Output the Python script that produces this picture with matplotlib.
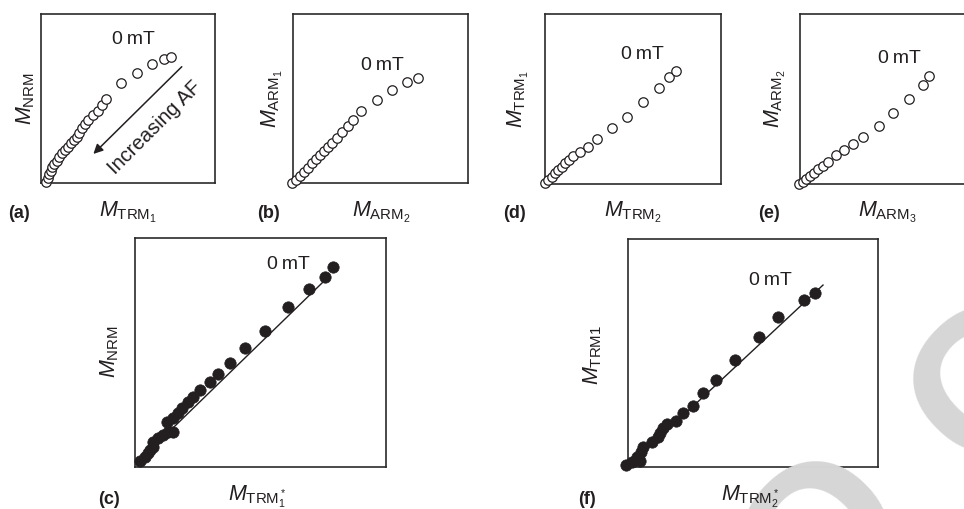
import matplotlib.pyplot as plt

plt.rcParams['font.family'] = ['Liberation Sans', 'DejaVu Sans']
plt.rcParams['mathtext.fontset'] = 'custom'
plt.rcParams['mathtext.rm'] = 'Liberation Sans'
plt.rcParams['mathtext.it'] = 'Liberation Sans:italic'
plt.rcParams['mathtext.bf'] = 'Liberation Sans:bold'

INK = '#231f20'

# demagnetisation data, both axes scaled 0-100 (arbitrary units)
a_x = [2.9, 3.9, 4.8, 5.6, 6.5, 7.6, 9.0, 10.5, 12.2, 13.8, 15.3, 17.1, 19.0,
       20.5, 22.0, 23.4, 25.3, 27.2, 30.1, 32.9, 35.1, 37.4, 45.8, 55.0, 63.6,
       70.7, 74.5]
a_y = [0.8, 3.1, 5.3, 7.3, 9.3, 11.2, 13.2, 15.6, 17.6, 19.5, 21.5, 23.5, 25.4,
       27.4, 29.8, 32.4, 34.9, 37.3, 40.2, 42.6, 46.2, 49.9, 59.3, 65.3, 70.2,
       73.2, 74.7]

b_x = [-0.7, 1.5, 4.0, 6.3, 8.7, 11.0, 13.1, 15.4, 17.9, 20.2, 22.5, 25.0,
       28.2, 31.6, 34.1, 38.7, 47.8, 56.4, 65.0, 71.6]
b_y = [0.2, 1.8, 4.1, 6.7, 9.1, 11.7, 14.0, 16.6, 18.9, 21.5, 23.8, 26.8,
       30.4, 33.9, 37.3, 42.6, 49.1, 55.0, 59.9, 62.3]

d_x = [0.0, 1.9, 3.8, 5.7, 7.6, 9.5, 11.4, 13.6, 16.1, 19.9, 24.6, 29.7,
       37.9, 46.4, 55.9, 64.8, 70.6, 74.4]
d_y = [0.4, 2.4, 4.3, 6.3, 8.2, 10.2, 12.2, 14.1, 16.5, 19.0, 22.0, 26.3,
       32.8, 39.6, 48.4, 56.6, 63.1, 66.6]

e_x = [-0.4, 1.5, 3.4, 5.7, 8.0, 10.5, 13.3, 16.2, 20.6, 25.1, 30.1, 36.2,
       45.1, 53.3, 62.5, 70.5, 73.9]
e_y = [0.0, 1.4, 2.9, 4.7, 6.6, 8.6, 10.6, 13.1, 17.1, 20.0, 23.4, 27.8,
       34.1, 41.6, 49.8, 58.2, 63.5]

c_x = [2.0, 4.0, 5.3, 6.0, 7.3, 7.1, 9.3, 11.3, 13.3, 15.3, 12.9, 15.3, 17.3,
       18.6, 21.2, 23.2, 25.9, 29.9, 33.2, 37.8, 43.8, 51.8, 61.1, 69.4, 75.7,
       79.0]
c_y = [2.8, 4.2, 6.0, 7.4, 8.9, 11.0, 12.5, 14.0, 15.4, 15.4, 19.8, 21.3, 23.4,
       25.6, 28.5, 30.7, 33.6, 37.0, 40.6, 45.5, 51.8, 59.4, 69.7, 77.6, 82.8,
       87.5]
c_fit_x = [1.0, 77.0]
c_fit_y = [2.0, 83.0]

f_x = [-0.8, 1.5, 3.5, 4.8, 5.2, 6.1, 9.5, 12.1, 12.8, 14.1, 15.7, 19.2,
       22.1, 25.9, 29.9, 35.2, 42.8, 52.5, 60.1, 70.5, 74.8]
f_y = [0.9, 2.3, 4.3, 2.8, 6.7, 8.9, 11.1, 13.3, 14.8, 17.0, 18.9, 20.3,
       23.8, 26.8, 32.3, 38.2, 46.9, 56.9, 66.0, 73.2, 76.4]
f_fit_x = [0.0, 78.0]
f_fit_y = [0.0, 79.8]

W, H = 964, 509
fig = plt.figure(figsize=(W / 100, H / 100), dpi=100)


def box(left, top, right, bottom):
    return [left / W, 1 - bottom / H, (right - left) / W, (bottom - top) / H]


def put(x, y, s, **kw):
    kw.setdefault('color', INK)
    fig.text(x / W, 1 - y / H, s, **kw)


def panel(rect, xs, ys, filled=False, fit=None, note=(50, 80)):
    ax = fig.add_axes(rect)
    ax.set_xlim(0, 100)
    ax.set_ylim(0, 100)
    ax.set_xticks([])
    ax.set_yticks([])
    for s in ax.spines.values():
        s.set_linewidth(1.2)
        s.set_color('#2a2a2a')
    if fit is not None:
        ax.plot(fit[0], fit[1], color=INK, lw=1.0, zorder=2)
    if filled:
        ax.plot(xs, ys, 'o', ls='none', ms=8.2, mfc=INK, mec=INK, mew=0.5,
                clip_on=False, zorder=3)
    else:
        for x, y in zip(xs, ys):
            ax.plot(x, y, 'o', ms=6.8, mfc='white', mec=INK, mew=0.9,
                    clip_on=False, zorder=3)
    ax.text(note[0], note[1], '0\u2009mT', ha='center', va='center',
            fontsize=14, color=INK)
    return ax


# spaced-out watermark letters, only partly on the page
for ch, (wx, wy) in zip('OO', [(827, 541), (997, 386)]):
    put(wx, wy, ch, rotation=45, rotation_mode='anchor', ha='center',
        va='center', fontsize=145, fontweight='bold', color='#d6d6d6',
        zorder=0)

ax_a = panel(box(41, 14, 215, 183), a_x, a_y, note=(52.9, 85.2))
ax_a.annotate('', xy=(30.1, 17.2), xytext=(80.9, 68.8),
              arrowprops=dict(arrowstyle='-|>', color=INK, lw=1.1,
                              mutation_scale=14, shrinkA=0, shrinkB=0))
ax_a.text(65.5, 32.5, 'Increasing AF', rotation=45, rotation_mode='anchor',
          ha='center', va='center', fontsize=14.5, color=INK)

panel(box(293, 14, 468, 183), b_x, b_y, note=(50.9, 69.8))
panel(box(545, 14, 721, 184), d_x, d_y, note=(55.1, 75.9))
panel(box(800, 14, 975, 184), e_x, e_y, note=(56.6, 74.1))
panel(box(135, 238, 386, 467), c_x, c_y, filled=True,
      fit=(c_fit_x, c_fit_y), note=(61.0, 88.6))
panel(box(628, 239, 878, 467), f_x, f_y, filled=True,
      fit=(f_fit_x, f_fit_y), note=(56.8, 82.0))

# axis labels
lab = dict(fontsize=15.5)
put(26, 99, r'$M_{\mathrm{NRM}}$', rotation=90, ha='center', va='center', **lab)
put(128, 217, r'$M_{\mathrm{TRM}_1}$', ha='center', va='baseline', **lab)
put(272, 99, r'$M_{\mathrm{ARM}_1}$', rotation=90, ha='center', va='center', **lab)
put(381, 217, r'$M_{\mathrm{ARM}_2}$', ha='center', va='baseline', **lab)
put(518, 99, r'$M_{\mathrm{TRM}_1}$', rotation=90, ha='center', va='center', **lab)
put(633, 217, r'$M_{\mathrm{TRM}_2}$', ha='center', va='baseline', **lab)
put(775, 99, r'$M_{\mathrm{ARM}_2}$', rotation=90, ha='center', va='center', **lab)
put(887, 217, r'$M_{\mathrm{ARM}_3}$', ha='center', va='baseline', **lab)
put(110, 352, r'$M_{\mathrm{NRM}}$', rotation=90, ha='center', va='center', **lab)
put(257, 500, r'$M_{\mathrm{TRM}_1^*}$', ha='center', va='baseline', **lab)
put(593, 355, r'$M_{\mathrm{TRM1}}$', rotation=90, ha='center', va='center', **lab)
put(750, 500, r'$M_{\mathrm{TRM}_2^*}$', ha='center', va='baseline', **lab)

# panel letters
tag = dict(fontsize=13, fontweight='bold', ha='left', va='baseline')
put(8, 218, '(a)', **tag)
put(257, 218, '(b)', **tag)
put(503, 218, '(d)', **tag)
put(758, 218, '(e)', **tag)
put(98, 504, '(c)', **tag)
put(578, 504, '(f)', **tag)

fig.savefig('out.png', dpi=100)
